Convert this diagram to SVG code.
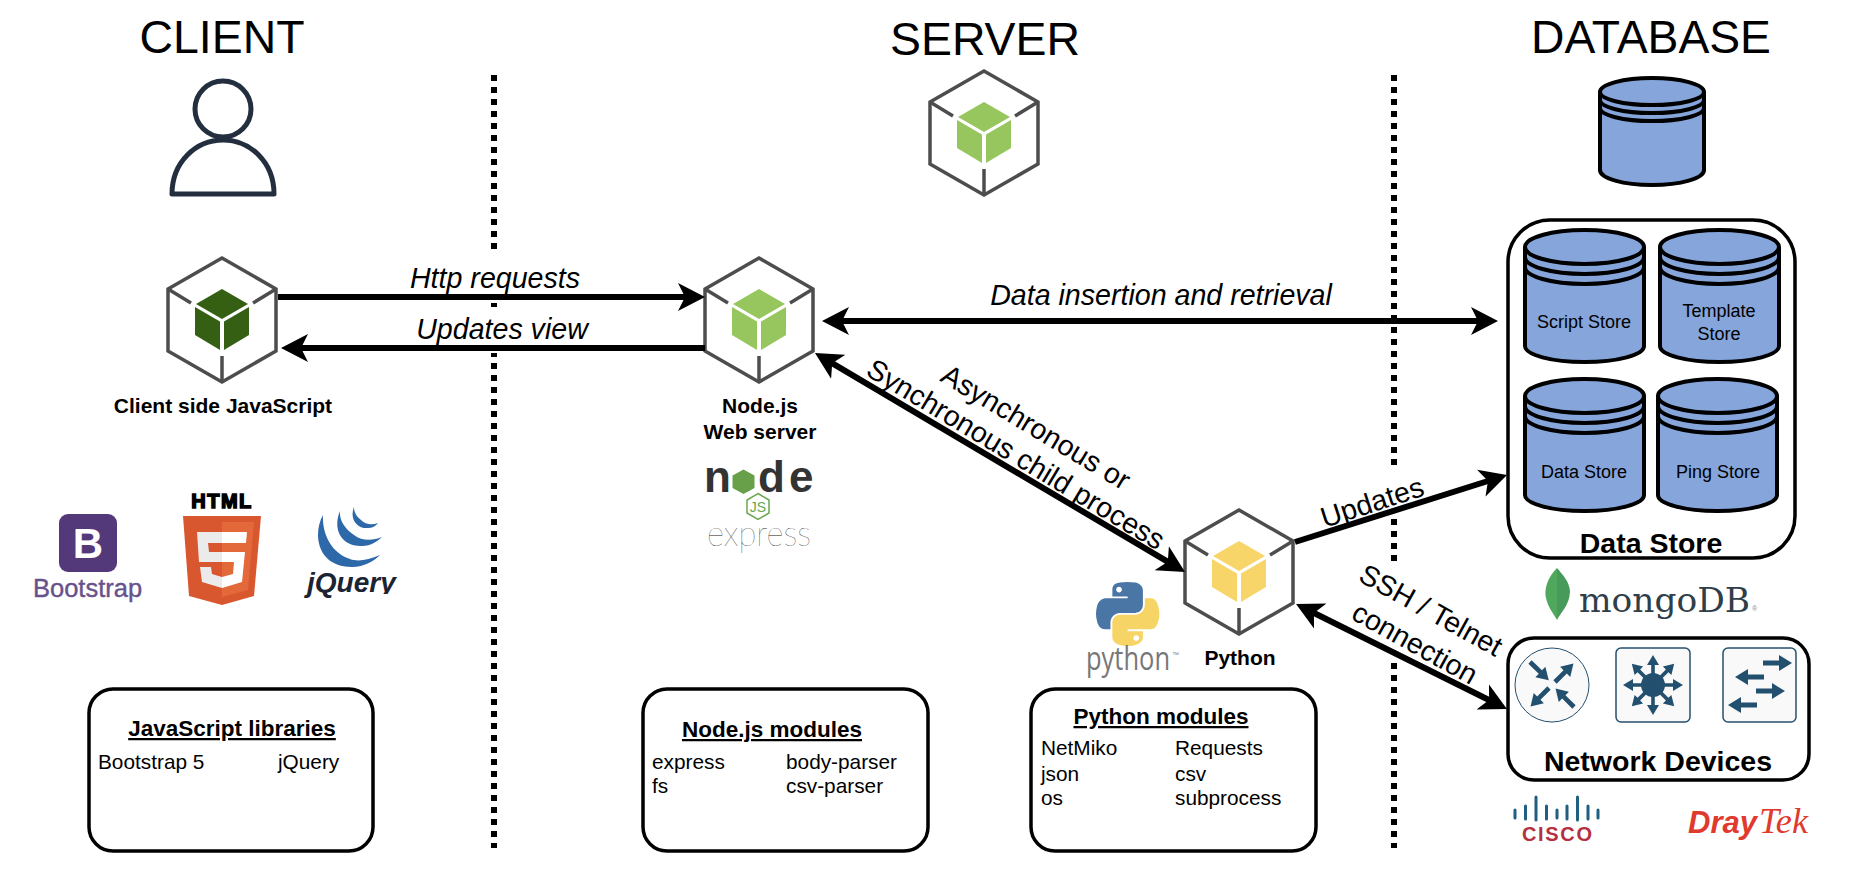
<svg xmlns="http://www.w3.org/2000/svg" width="1858" height="876" viewBox="0 0 1858 876">
<style>
text{font-family:"Liberation Sans",Arial,sans-serif;fill:#000}
.title{font-size:47px;text-anchor:middle}
.bold{font-size:21px;font-weight:bold;text-anchor:middle}
.head{font-size:22.500px;font-weight:bold;text-anchor:middle;text-decoration:underline}
.mod{font-size:20.800px}
.lab{font-size:28.600px;text-anchor:middle}
.it{font-style:italic}
.store{font-size:18px;text-anchor:middle}
.big{font-size:28.500px;font-weight:bold;text-anchor:middle}
.box{fill:#fff;stroke:#000;stroke-width:3.5}
.bg{fill:#fff}
.hex{fill:#fff;stroke:#4d4d4d;stroke-width:3.5;stroke-linejoin:miter}
.spoke{fill:none;stroke:#4d4d4d;stroke-width:3.5}
.cyl{fill:#85a5db;stroke:#000;stroke-width:4}
.cyl-line{fill:none;stroke:#000;stroke-width:4}
.sep{fill:none;stroke:#000;stroke-width:6;stroke-dasharray:6 6}
.arrow{fill:none;stroke:#000;stroke-width:6}
.end{marker-end:url(#head)}
.both{marker-start:url(#head);marker-end:url(#head)}
.net{fill:#24506f}
.panel{fill:#f9f9f9;stroke:#24506f;stroke-width:1.5}
</style>
<defs>
<marker id="head" markerUnits="userSpaceOnUse" markerWidth="30" markerHeight="30" viewBox="0 -15 30 30" refX="17" refY="0" orient="auto-start-reverse">
<path d="M0,-14L27,0L0,14L7,0Z" fill="#000"/>
</marker>
<g id="frame">
<path class="hex" d="M0,-62L54,-31V31L0,62L-54,31V-31Z"/>
<path class="spoke" d="M-54,-31L-31,-17M54,-31L31,-17M0,62V36"/>
</g>
<g id="cube">
<path d="M0,-31L26,-16L0,-1L-26,-16Z"/>
<path d="M-27,-13L-2,1.5V30L-27,15Z"/>
<path d="M27,-13L2,1.5V30L27,15Z"/>
</g>
<g id="cyl">
<path class="cyl" d="M0,17A59.5,17 0 0 1 119,17V116A59.5,16 0 0 1 0,116Z"/>
<path class="cyl-line" d="M0,17A59.5,17 0 0 0 119,17M0,27A59.5,17 0 0 0 119,27M0,37A59.5,17 0 0 0 119,37"/>
</g>
<path id="ar" d="M0,-2.6H16V-8L29,0L16,8V2.6H0Z"/>
<path id="sp" d="M0,-1.800H20V-6L30,0L20,6V1.800H0Z"/>
<clipPath id="jqclip"><path d="M300,560H400V594H342V610H300Z"/></clipPath>
</defs>
<rect width="1858" height="876" fill="#fff"/>

<g id="separators">
<path class="sep" d="M494,75V848"/>
<path class="sep" d="M1394,75V848"/>
<rect class="bg" x="405" y="255" width="180" height="48"/>
<rect class="bg" x="410" y="307" width="180" height="46"/>
<rect class="bg" x="1380" y="465" width="30" height="53"/>
<rect class="bg" x="1380" y="563" width="30" height="100"/>
</g>

<g id="titles">
<text class="title" x="222" y="53" textLength="165" lengthAdjust="spacingAndGlyphs">CLIENT</text>
<text class="title" x="985" y="55" textLength="190" lengthAdjust="spacingAndGlyphs">SERVER</text>
<text class="title" x="1651" y="53" textLength="240" lengthAdjust="spacingAndGlyphs">DATABASE</text>
</g>

<g id="user">
<ellipse cx="223" cy="109" rx="28" ry="28" fill="#fff" stroke="#232f3e" stroke-width="5"/>
<path d="M172,194C172,162 196,140 223,140C250,140 274,162 274,194Z" fill="#fff" stroke="#232f3e" stroke-width="5" stroke-linejoin="round"/>
</g>

<g id="server-icon">
<use href="#frame" x="984" y="133"/>
<use href="#cube" x="984" y="133" fill="#97c65f"/>
</g>

<g id="client-js">
<use href="#frame" x="222" y="320"/>
<use href="#cube" x="222" y="320" fill="#356014"/>
<text class="bold" x="223" y="413">Client side JavaScript</text>
</g>

<g id="nodejs">
<use href="#frame" x="759" y="320"/>
<use href="#cube" x="759" y="320" fill="#97c65f"/>
<text class="bold" x="760" y="413">Node.js</text>
<text class="bold" x="760" y="439">Web server</text>
</g>

<g id="python">
<use href="#frame" x="1239" y="572"/>
<use href="#cube" x="1239" y="572" fill="#f8d568"/>
<text class="bold" x="1240" y="665">Python</text>
</g>

<g id="connectors">
<path class="arrow end" d="M278,297H695"/>
<path class="arrow end" d="M705,348H291"/>
<path class="arrow both" d="M832,321H1488"/>
<path class="arrow both" d="M823.6,358.1L1176.4,566.9"/>
<path class="arrow end" d="M1295,542L1497.5,478"/>
<path class="arrow both" d="M1305,608.5L1498,704.5"/>
</g>

<g id="labels">
<text class="lab it" x="495" y="288">Http requests</text>
<text class="lab it" x="502" y="339">Updates view</text>
<text class="lab it" x="1161" y="305">Data insertion and retrieval</text>
<text class="lab" transform="translate(1036,427) rotate(31)" y="10">Asynchronous or</text>
<text class="lab" transform="translate(1016,454) rotate(31)" y="10">Synchronous child process</text>
<text class="lab" transform="translate(1372,502) rotate(-18)" y="10">Updates</text>
<text class="lab" transform="translate(1431,610) rotate(29)" y="10">SSH / Telnet</text>
<text class="lab" transform="translate(1415,643) rotate(29)" y="10">connection</text>
</g>

<g id="bootstrap-logo">
<rect x="59" y="514" width="58" height="58" rx="9" fill="#54397a"/>
<text x="88" y="558" font-size="42" font-weight="bold" text-anchor="middle" style="fill:#fff">B</text>
<text x="33" y="597" font-size="25.5" stroke="#67528c" stroke-width=".4" style="fill:#67528c">Bootstrap</text>
</g>

<g id="html5-logo">
<text x="222" y="508" font-size="20" font-weight="bold" text-anchor="middle" letter-spacing="1.500" stroke="#000" stroke-width="1.500">HTML</text>
<path d="M183,516H261L254,596L222,605L189,596Z" fill="#d9572f"/>
<path d="M222,522H254L248,590L222,597Z" fill="#e3683a"/>
<path d="M222,532H197L199,562H222V552H209L208,543H222ZM222,577L212,574L211,567H200L202,582L222,588Z" fill="#ebebeb"/>
<path d="M222,532H247L246,543H222ZM222,552H245L242,582L222,588V577L233,574L234,562H222Z" fill="#fff"/>
</g>

<g id="jquery-logo">
<path fill="#2d68a8" d="M323,515C312,535 318,567 352,567C364,567 374,561 380,555C368,560 358,562 350,559C332,553 322,535 323,515ZM340,511C332,530 342,547 362,546C371,546 378,541 382,537C372,541 362,541 354,535C345,529 339,520 340,511ZM354,507C349,520 358,529 368,528C372,528 376,526 378,523C372,525 366,525 361,520C356,516 354,512 354,507Z"/>
<text x="307" y="592" font-size="28" font-weight="bold" font-style="italic" clip-path="url(#jqclip)" style="fill:#1c2433">jQuery</text>
</g>

<g id="node-logo">
<text y="492" font-size="44" font-weight="bold" style="fill:#333"><tspan x="704">n</tspan><tspan x="734" font-size="34" style="fill:#68a04a">o</tspan><tspan x="758">d</tspan><tspan x="789">e</tspan></text>
<path d="M743.500,469.500L754.500,475.500V488L743.500,494L732.500,488V475.500Z" fill="#68a04a"/>
<path d="M758,493.500L769,500V513L758,519.500L747,513V500Z" fill="#fff" stroke="#6aa84f" stroke-width="1.500"/>
<text x="758" y="511.500" font-size="14" text-anchor="middle" style="fill:#6aa84f">JS</text>
<text x="707" y="546" font-size="36" textLength="104" lengthAdjust="spacingAndGlyphs" style="font-family:Lato,'Liberation Sans',sans-serif;font-weight:100;fill:#222">express</text>
</g>

<g id="python-logo">
<g transform="translate(1096,582) scale(.57)">
<path fill="#4a76a6" fill-rule="evenodd" d="M54.92,0C50.34,.02 45.96,.41 42.11,1.09C30.76,3.1 28.7,7.29 28.7,15.03V25.25H55.51V28.66H28.7H18.64C10.85,28.66 4.02,33.34 1.89,42.25C-.57,52.46 -.68,58.84 1.89,69.5C3.79,77.44 8.33,83.09 16.12,83.09H25.34V70.84C25.34,61.99 33,54.19 42.11,54.19H68.89C76.35,54.19 82.3,48.05 82.3,40.56V15.03C82.3,7.77 76.17,2.31 68.89,1.09C64.28,.33 59.5,-.02 54.92,0ZM40.42,8.22C43.19,8.22 45.45,10.52 45.45,13.34C45.45,16.16 43.19,18.44 40.42,18.44C37.64,18.44 35.39,16.16 35.39,13.34C35.39,10.52 37.64,8.22 40.42,8.22Z"/>
<path fill="#f6d465" fill-rule="evenodd" d="M85.64,28.66V40.56C85.64,49.79 77.82,57.56 68.89,57.56H42.11C34.78,57.56 28.7,63.84 28.7,71.19V96.72C28.7,103.99 35.02,108.26 42.11,110.34C50.6,112.84 58.74,113.29 68.89,110.34C75.64,108.39 82.3,104.46 82.3,96.72V86.5H55.51V83.09H82.3H95.7C103.5,83.09 106.4,77.66 109.11,69.5C111.91,61.1 111.79,53.03 109.11,42.25C107.18,34.49 103.5,28.66 95.7,28.66ZM70.58,93.31C73.36,93.31 75.61,95.59 75.61,98.41C75.61,101.23 73.36,103.53 70.58,103.53C67.8,103.53 65.55,101.23 65.55,98.41C65.55,95.59 67.8,93.31 70.58,93.31Z"/>
</g>
<text x="1086" y="670" font-size="32" textLength="84" lengthAdjust="spacingAndGlyphs" style="font-family:'Open Sans','Liberation Sans',sans-serif;fill:#777">python</text>
<text x="1172" y="657" font-size="7" style="fill:#888">™</text>
</g>

<g id="js-libraries">
<rect class="box" x="89" y="689" width="284" height="162" rx="24"/>
<text class="head" x="232" y="736">JavaScript libraries</text>
<text class="mod" x="98" y="769">Bootstrap 5</text>
<text class="mod" x="278" y="769">jQuery</text>
</g>

<g id="node-modules">
<rect class="box" x="643" y="689" width="285" height="162" rx="24"/>
<text class="head" x="772" y="737">Node.js modules</text>
<text class="mod" x="652" y="769">express</text>
<text class="mod" x="652" y="793">fs</text>
<text class="mod" x="786" y="769">body-parser</text>
<text class="mod" x="786" y="793">csv-parser</text>
</g>

<g id="python-modules">
<rect class="box" x="1031" y="689" width="285" height="162" rx="24"/>
<text class="head" x="1161" y="724">Python modules</text>
<text class="mod" x="1041" y="755">NetMiko</text>
<text class="mod" x="1041" y="781">json</text>
<text class="mod" x="1041" y="805">os</text>
<text class="mod" x="1175" y="755">Requests</text>
<text class="mod" x="1175" y="781">csv</text>
<text class="mod" x="1175" y="805">subprocess</text>
</g>

<g id="database-icon">
<path class="cyl" d="M1600,92A52,14 0 0 1 1704,92V170A52,15 0 0 1 1600,170Z"/>
<path class="cyl-line" d="M1600,92A52,13 0 0 0 1704,92M1600,100A52,13 0 0 0 1704,100M1600,108A52,13 0 0 0 1704,108"/>
</g>

<g id="data-store">
<rect class="box" x="1508" y="220" width="287" height="338" rx="42"/>
<text class="big" x="1651" y="553">Data Store</text>
</g>
<g id="script-store">
<use href="#cyl" x="1525" y="230"/>
<text class="store" x="1584" y="328">Script Store</text>
</g>
<g id="template-store">
<use href="#cyl" x="1660" y="230"/>
<text class="store" x="1719" y="317">Template</text>
<text class="store" x="1719" y="340">Store</text>
</g>
<g id="data-store-db">
<use href="#cyl" x="1525" y="379"/>
<text class="store" x="1584" y="478">Data Store</text>
</g>
<g id="ping-store">
<use href="#cyl" x="1658" y="379"/>
<text class="store" x="1718" y="478">Ping Store</text>
</g>

<g id="mongodb-logo">
<path d="M1557,568C1547,578 1544,590 1546,598C1548,608 1554,614 1557,620Z" fill="#4fa85c"/>
<path d="M1557,568C1562,574 1570,582 1570,592C1569,606 1561,612 1557,620Z" fill="#479a59"/>
<text x="1579" y="612" font-size="34" textLength="171" lengthAdjust="spacingAndGlyphs" style="font-family:'DejaVu Serif','Liberation Serif',serif;fill:#2f3e48">mongoDB</text>
<text x="1752" y="611" font-size="7" style="fill:#888">®</text>
</g>

<g id="network-devices">
<rect class="box" x="1508" y="638" width="301" height="142" rx="26"/>
<text class="big" x="1658" y="771">Network Devices</text>
<g id="router">
<circle cx="1552" cy="685" r="37" fill="#f9f9f9" stroke="#24506f" stroke-width="1"/>
<g class="net">
<use href="#ar" transform="translate(1530,662) rotate(44) scale(.9)"/>
<use href="#ar" transform="translate(1555,682) rotate(-45) scale(.9)"/>
<use href="#ar" transform="translate(1549,688) rotate(135) scale(.9)"/>
<use href="#ar" transform="translate(1574,707) rotate(-135) scale(.9)"/>
</g>
</g>
<g id="l3-switch">
<rect class="panel" x="1616" y="648" width="74" height="74" rx="5"/>
<g class="net" transform="translate(1653,685)">
<circle r="12"/>
<use href="#sp" transform="rotate(0)"/>
<use href="#sp" transform="rotate(45)"/>
<use href="#sp" transform="rotate(90)"/>
<use href="#sp" transform="rotate(135)"/>
<use href="#sp" transform="rotate(180)"/>
<use href="#sp" transform="rotate(225)"/>
<use href="#sp" transform="rotate(270)"/>
<use href="#sp" transform="rotate(315)"/>
</g>
</g>
<g id="l2-switch">
<rect class="panel" x="1723" y="648" width="73" height="74" rx="5"/>
<g class="net">
<use href="#ar" transform="translate(1763,663)"/>
<use href="#ar" transform="translate(1764,677) rotate(180)"/>
<use href="#ar" transform="translate(1756,691)"/>
<use href="#ar" transform="translate(1757,705) rotate(180)"/>
</g>
</g>
</g>

<g id="cisco-logo">
<path d="M1515,810V818M1525.500,806V819M1536,797V820M1546.500,806V819M1557,810V818M1567,806V819M1577.500,797V820M1588,806V819M1598,810V818" fill="none" stroke="#1f5f80" stroke-width="3" stroke-linecap="round"/>
<text x="1522" y="841" font-size="20" font-weight="bold" textLength="70" style="fill:#b5303f">CISCO</text>
</g>

<g id="draytek-logo">
<text x="1688" y="833" font-size="32" font-weight="bold" font-style="italic" textLength="69" lengthAdjust="spacingAndGlyphs" style="fill:#e03a2f">Dray</text>
<text x="1759" y="833" font-size="35" font-style="italic" textLength="49" lengthAdjust="spacingAndGlyphs" style="font-family:'Liberation Serif',serif;fill:#e03a2f">Tek</text>
</g>
</svg>
